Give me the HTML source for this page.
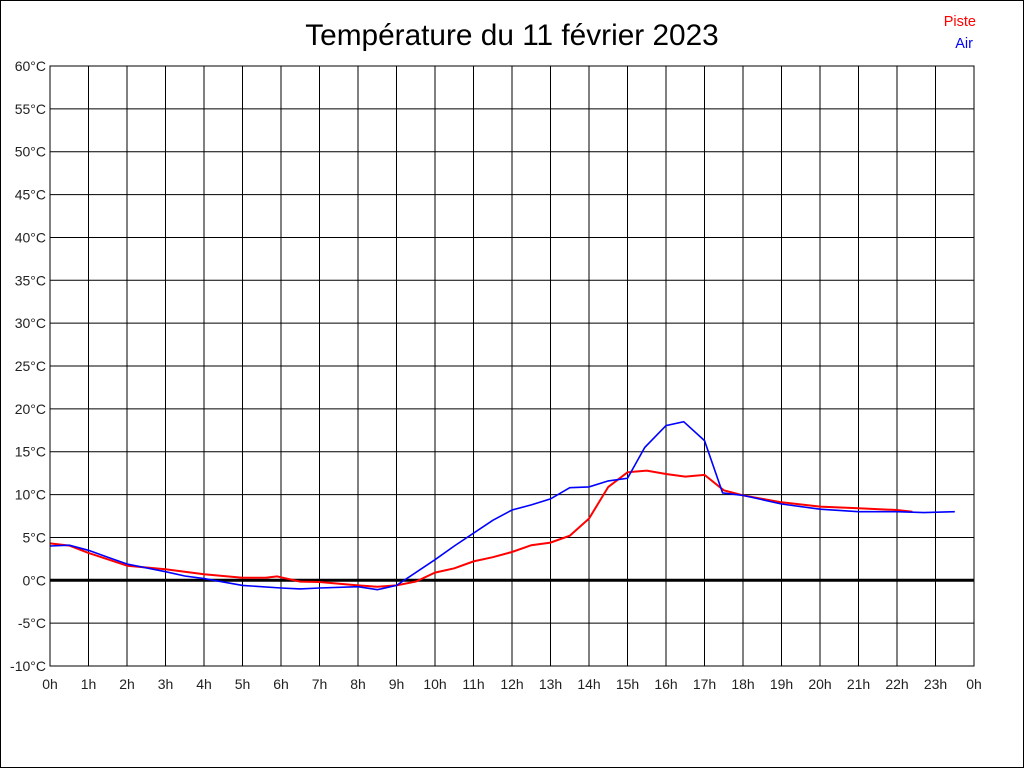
<!DOCTYPE html>
<html><head><meta charset="utf-8"><style>
html,body{margin:0;padding:0;background:#fff}
svg{display:block}
text{font-family:"Liberation Sans",sans-serif}
</style></head><body>
<svg id="s" width="1024" height="768" xmlns="http://www.w3.org/2000/svg">
<rect x="0.5" y="0.5" width="1023" height="767" fill="#fff" stroke="#000"/>
<text x="512" y="45" font-size="29.8" text-anchor="middle">Température du 11 février 2023</text>
<text x="976" y="26" font-size="14.5" fill="#f00" text-anchor="end">Piste</text>
<text x="973" y="48" font-size="14.5" fill="#00f" text-anchor="end">Air</text>
<g id="g"></g>
</svg>
<script>
var g=document.getElementById('g'),h='';
function X(t){return 50+38.5*t}
function Y(v){return 580.3-v*600/70}
for(var i=0;i<=24;i++){var x=X(i);h+='<line x1="'+x+'" y1="66" x2="'+x+'" y2="666" stroke="#000" stroke-width="1"/>';
h+='<text x="'+x+'" y="689" font-size="14" text-anchor="middle" fill="#222">'+(i%24)+'h</text>';}
for(var v=-10;v<=60;v+=5){var y=Y(v);h+='<line x1="50" y1="'+y+'" x2="974" y2="'+y+'" stroke="#000" stroke-width="'+(v==0?3:1)+'"/>';
h+='<text x="46" y="'+(y+5)+'" font-size="14" text-anchor="end" fill="#222">'+v+'°C</text>';}
var red=[[0,4.3],[0.5,4.05],[1,3.2],[2,1.7],[3,1.3],[4,0.7],[5,0.3],[5.6,0.3],[5.9,0.45],[6,0.35],[6.5,-0.15],[7,-0.2],[8,-0.6],[8.5,-0.75],[9,-0.6],[9.5,-0.15],[10,0.9],[10.5,1.4],[11,2.2],[11.5,2.7],[12,3.3],[12.5,4.1],[13,4.4],[13.5,5.2],[14,7.2],[14.5,10.9],[15,12.6],[15.5,12.8],[16,12.4],[16.5,12.1],[17,12.3],[17.5,10.5],[18,9.9],[19,9.1],[20,8.6],[21,8.4],[22,8.2],[22.4,8.0]];
var blue=[[0,4.0],[0.5,4.1],[1,3.5],[1.5,2.7],[2,1.9],[3,1.0],[3.5,0.5],[4,0.2],[5,-0.6],[6,-0.9],[6.5,-1.0],[7,-0.9],[8,-0.75],[8.5,-1.1],[9,-0.6],[10,2.4],[10.5,4.0],[11,5.5],[11.5,7.0],[12,8.2],[12.5,8.8],[13,9.5],[13.5,10.8],[14,10.9],[14.5,11.6],[15,11.9],[15.45,15.5],[16,18.05],[16.46,18.5],[17,16.3],[17.47,10.2],[18,9.9],[19,8.9],[20,8.3],[21,8.0],[22,8.0],[22.7,7.9],[23.5,8.0]];
function pl(a,c,w){return '<polyline fill="none" stroke="'+c+'" stroke-width="'+w+'" points="'+a.map(function(p){return X(p[0]).toFixed(1)+','+Y(p[1]).toFixed(1)}).join(' ')+'"/>'}
h+=pl(red,'#f00',2)+pl(blue,'#00f',1.6);
h+='<rect x="50" y="66" width="924" height="600" fill="none" stroke="#000"/>';
g.innerHTML=h;
</script>
</body></html>
